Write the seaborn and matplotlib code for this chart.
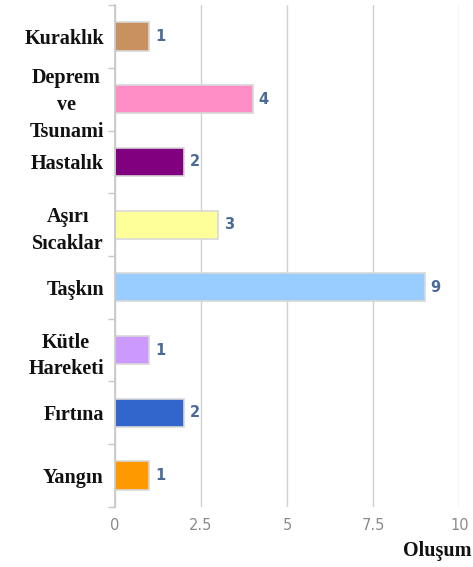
import matplotlib
matplotlib.use("Agg")
import matplotlib.pyplot as plt
import seaborn as sns
import pandas as pd
import numpy as np

categories = ["Kuraklık", "Deprem\nve\nTsunami", "Hastalık", "Aşırı\nSıcaklar", "Taşkın",
              "Kütle\nHareketi", "Fırtına", "Yangın"]
values = [1, 4, 2, 3, 9, 1, 2, 1]
colors = ["#C8915F", "#FF8EC6", "#800080", "#FFFF99", "#99CCFF", "#CC99FF", "#3366CC", "#FF9900"]
xticks = [0, 2.5, 5, 7.5, 10]
xticklabels = ["0", "2.5", "5", "7.5", "10"]
xlabel = "Oluşum"

sns.set_theme(style="white")
plt.rcParams["font.family"] = ["DejaVu Sans"]

df = pd.DataFrame({"cat": categories, "val": values})

fig = plt.figure(figsize=(4.73, 5.67), dpi=100)
ax = fig.add_axes([0.243, 0.106, 0.728, 0.885])

sns.barplot(data=df, x="val", y="cat", hue="cat", palette=colors, orient="h",
            width=0.45, legend=False, ax=ax, edgecolor="#d8d8d8", linewidth=1.2,
            saturation=1)

ax.set_xlim(0, 10)
ax.set_ylim(len(categories) - 0.5, -0.5)
ax.set_xticks(xticks)
ax.set_xticklabels(xticklabels, color="#8a8a8a", fontsize=10.5)
ax.xaxis.grid(True, color="#d0d0d0", linewidth=1)
ax.set_axisbelow(True)
ax.tick_params(axis="x", length=0, pad=8)

ax.set_yticks(range(len(categories)))
ax.set_yticklabels(categories, family="Liberation Serif", fontweight="bold",
                   fontsize=14.5, color="#111111", multialignment="center",
                   linespacing=1.45)
ax.tick_params(axis="y", which="major", length=0, pad=8)
ax.set_yticks(np.arange(-0.5, len(categories), 1), minor=True)
ax.tick_params(axis="y", which="minor", length=5, color="#c8c8c8", width=1, left=True)

for s in ["top", "right", "bottom"]:
    ax.spines[s].set_visible(False)
ax.spines["left"].set_color("#c8c8c8")

ax.set_xlabel("")
ax.set_ylabel("")

for i, v in enumerate(values):
    ax.text(v + 0.17, i, str(v), va="center", ha="left", fontsize=10.5,
            fontweight="bold", color="#4a6b96")

fig.text(0.925, 0.028, xlabel, family="Liberation Serif", fontweight="bold",
         fontsize=14.5, ha="center", va="center", color="#111111")

fig.savefig("out.png", dpi=100)
